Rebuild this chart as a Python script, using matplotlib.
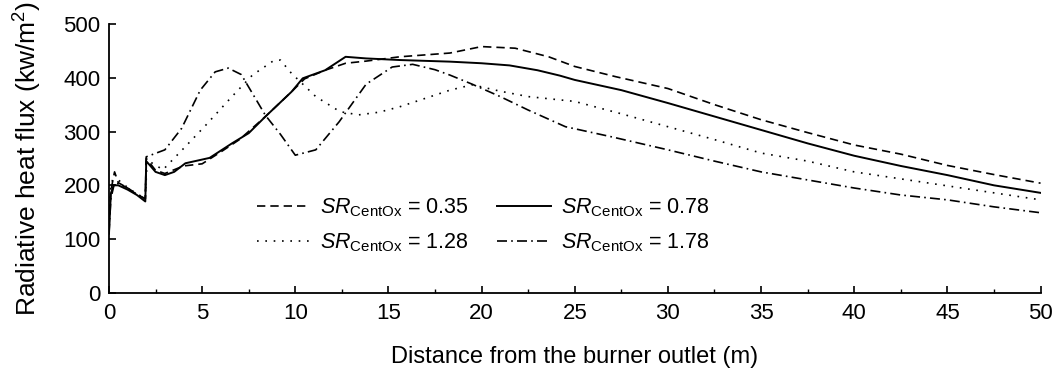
import matplotlib
matplotlib.use("Agg")
import matplotlib.pyplot as plt
from matplotlib.ticker import MultipleLocator

plt.rcParams['font.family'] = ['Liberation Sans', 'DejaVu Sans']
plt.rcParams['mathtext.fontset'] = 'custom'
plt.rcParams['mathtext.rm'] = 'Liberation Sans'
plt.rcParams['mathtext.it'] = 'Liberation Sans:italic'
plt.rcParams['mathtext.bf'] = 'Liberation Sans:bold'

# --- data ---
x_035 = [0, 0.1, 0.3, 0.5, 1.0, 1.5, 1.95, 2.0, 2.5, 3.0, 4.0, 5.0, 6.0, 7.0, 8.4, 9.8, 10.5,
         11.6, 12.7, 13.8, 15.6, 18.3, 20, 21.8, 23.6, 25, 27.2, 30, 32.5, 35, 37.5, 40, 42.5,
         45, 47.5, 50]
y_035 = [120, 190, 225, 205, 195, 183, 175, 250, 228, 222, 236, 240, 262, 285, 328, 374, 398,
         414, 427, 431, 439, 446, 458, 455, 439, 421, 402, 380, 350, 322, 298, 275, 258,
         237, 220, 204]

x_078 = [0, 0.1, 0.25, 0.5, 1.0, 1.5, 1.95, 2.0, 2.5, 3.0, 3.5, 4.1, 5.4, 6.6, 7.5, 8.4, 9.8,
         10.4, 11.6, 12.7, 13.8, 15.6, 18.3, 20, 21.5, 23, 24.2, 25, 27.5, 30, 32.5, 35, 37.5,
         40, 42.5, 45, 47.5, 50]
y_078 = [110, 185, 200, 200, 192, 182, 170, 245, 225, 219, 225, 241, 251, 278, 297, 328, 374,
         399, 414, 439, 436, 433, 430, 427, 423, 414, 404, 396, 377, 353, 328, 303, 278,
         255, 236, 219, 200, 186]

x_128 = [0, 0.1, 0.3, 0.5, 1.0, 1.5, 1.95, 2.05, 2.9, 4.1, 5.2, 6.6, 7.7, 8.8, 9.2, 9.8,
         10.5, 11.1, 12.4, 13.4, 14.5, 15.6, 17, 18.3, 19.5, 21, 22.5, 25, 27.5, 30, 32.5,
         35, 37.5, 40, 42.5, 45, 47.5, 50]
y_128 = [130, 200, 222, 210, 196, 184, 176, 247, 229, 272, 312, 365, 405, 431, 433, 408,
         385, 365, 337, 331, 336, 346, 362, 377, 387, 375, 365, 356, 333, 309, 285,
         260, 245, 225, 212, 199, 186, 173]

x_178 = [0, 0.1, 0.3, 0.5, 1.0, 1.5, 1.95, 2.0, 3.0, 3.9, 4.9, 5.7, 6.4, 7.1, 8.4, 9.2, 10.0,
         11.1, 12.35, 13.8, 15.2, 16.3, 17.5, 18.3, 19.5, 21, 22.5, 24.5, 27, 30, 32.5, 35,
         37.5, 40, 42.5, 45, 47.5, 50]
y_178 = [110, 175, 205, 203, 195, 183, 175, 253, 266, 306, 377, 411, 418, 406, 330, 295, 256,
         266, 318, 388, 420, 425, 415, 405, 388, 365, 340, 309, 290, 266, 245, 225,
         210, 195, 182, 173, 160, 149]

labels = [r'$\mathit{SR}_{\mathrm{CentOx}}$ = 0.35',
          r'$\mathit{SR}_{\mathrm{CentOx}}$ = 0.78',
          r'$\mathit{SR}_{\mathrm{CentOx}}$ = 1.28',
          r'$\mathit{SR}_{\mathrm{CentOx}}$ = 1.78']

fig = plt.figure(figsize=(10.58, 3.75), dpi=100)
ax = fig.add_axes([0.103, 0.219, 0.8805, 0.717])

lw = 1.2
l1, = ax.plot(x_035, y_035, color='black', lw=lw, linestyle=(0, (5, 3)))
l2, = ax.plot(x_078, y_078, color='black', lw=1.4, linestyle='-')
l3, = ax.plot(x_128, y_128, color='black', lw=lw, linestyle=(0, (1, 4)))
l4, = ax.plot(x_178, y_178, color='black', lw=lw, linestyle=(0, (6, 2.5, 1, 2.5)))

ax.set_xlim(0, 50)
ax.set_ylim(0, 500)
ax.xaxis.set_major_locator(MultipleLocator(5))
ax.xaxis.set_minor_locator(MultipleLocator(2.5))
ax.yaxis.set_major_locator(MultipleLocator(100))

for s in ['top', 'right']:
    ax.spines[s].set_visible(False)
for s in ['left', 'bottom']:
    ax.spines[s].set_linewidth(1.3)

ax.tick_params(axis='both', which='major', direction='in', length=5, width=1.2,
               labelsize=16)
ax.tick_params(axis='x', which='major', pad=7)
ax.tick_params(axis='y', which='major', pad=6)
ax.tick_params(axis='x', which='minor', direction='in', length=3, width=1.0)
ax.tick_params(axis='y', which='minor', left=False)

ax.set_xlabel('Distance from the burner outlet (m)', fontsize=17, labelpad=16)
ax.set_ylabel(r'Radiative heat flux (kw/m$^2$)', fontsize=19, labelpad=14)

# legend entries ordered so that rows read 0.35, 0.78 / 1.28, 1.78
ax.legend([l1, l3, l2, l4], [labels[0], labels[2], labels[1], labels[3]], ncol=2,
          frameon=False, fontsize=15.5, loc='upper left', bbox_to_anchor=(0.147, 0.40),
          handlelength=2.5, handletextpad=0.45, columnspacing=1.3, labelspacing=0.6,
          borderpad=0)

fig.savefig('out.png', dpi=100)
